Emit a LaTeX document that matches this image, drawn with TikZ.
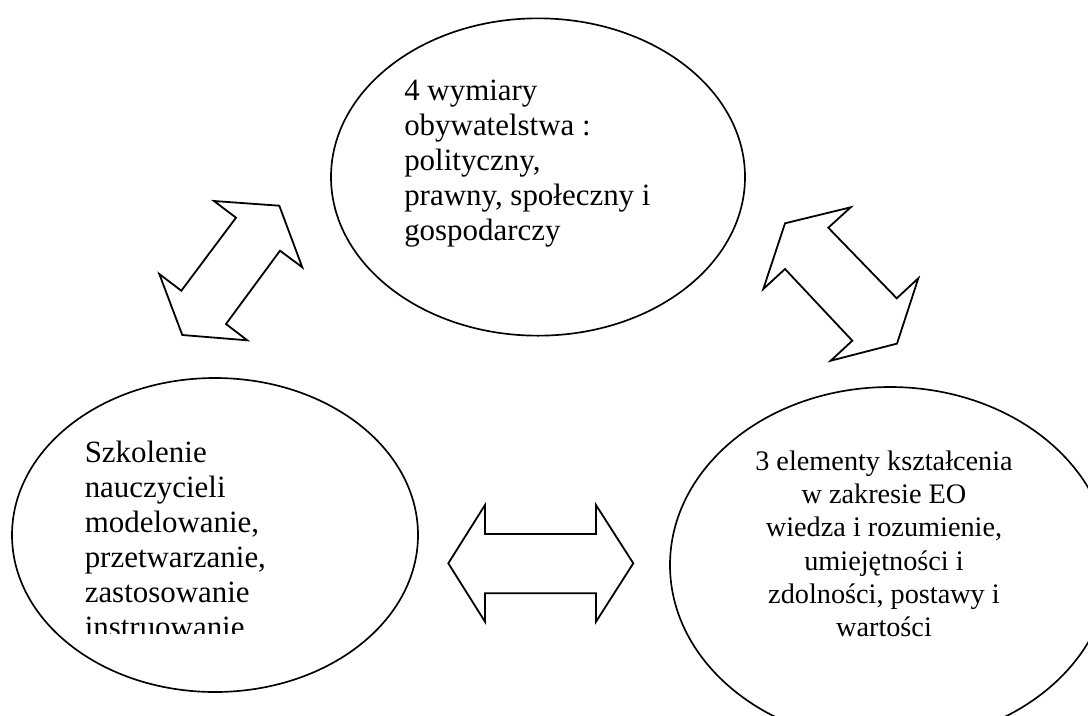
\documentclass[tikz,border=0pt]{standalone}
\usepackage{fontspec}
\setmainfont{Liberation Serif}
\usetikzlibrary{shapes.geometric}
\begin{document}
\begin{tikzpicture}[x=0.75pt,y=-0.75pt,
  bubble/.style={draw, ellipse, line width=1.25pt, inner sep=0pt},
  blockarrow/.style={draw, line width=1.35pt, fill=white, line join=miter},
  bigtext/.style={inner sep=0pt, anchor=base west, font=\fontsize{23.2pt}{26.25pt}\selectfont},
  smalltext/.style={inner sep=0pt, anchor=base, font=\fontsize{21.2pt}{25pt}\selectfont}]
\clip (0,0) rectangle (1088,715);
\fill[white] (0,0) rectangle (1088,715);
% ellipses
\node[bubble, minimum width=310.5pt, minimum height=238pt] (wymiary) at (538,177) {};
\node[bubble, minimum width=304.5pt, minimum height=235.5pt] (szkolenie) at (215,535) {};
\node[bubble, minimum width=330pt, minimum height=267pt] (elementy) at (890,565) {};
% texts
\node[bigtext] (twymiary) at (404,100) {\begin{tabular}[t]{@{}l@{}}4 wymiary\\ obywatelstwa :\\ polityczny,\\ prawny, społeczny i\\ gospodarczy\end{tabular}};
\begin{scope}
\clip (0,0) rectangle (1088,633);
\node[bigtext] (tszkolenie) at (84.5,462) {\begin{tabular}[t]{@{}l@{}}Szkolenie\\ nauczycieli\\ modelowanie,\\ przetwarzanie,\\ zastosowanie\\ instruowanie\end{tabular}};
\end{scope}
\node[smalltext] (telementy) at (884,470) {\begin{tabular}[t]{@{}c@{}}3 elementy kształcenia\\ w zakresie EO\\ wiedza i rozumienie,\\ umiejętności i\\ zdolności, postawy i\\ wartości\end{tabular}};
% left diagonal double arrow
\draw[blockarrow] (214,201) -- (279.3,205.7) -- (302.3,267.3) -- (280,250.7) -- (226,324)
  -- (247.3,340.3) -- (182.3,335) -- (159.3,274) -- (181.3,290.7) -- (236,217.7) -- cycle;
% right diagonal double arrow
\draw[blockarrow] (785,223.3) -- (850.7,207.3) -- (828.3,227.7) -- (896.7,298.3) -- (918.3,278.3)
  -- (897,343.6) -- (830.7,360.7) -- (852.3,340.7) -- (785,269) -- (763.3,289) -- cycle;
% horizontal double arrow
\draw[blockarrow] (448.3,563.3) -- (485,505) -- (485,534) -- (596,534) -- (596,505)
  -- (633.3,563.3) -- (596,621.7) -- (596,593.3) -- (485,593.3) -- (485,621.7) -- cycle;
\end{tikzpicture}
\end{document}
